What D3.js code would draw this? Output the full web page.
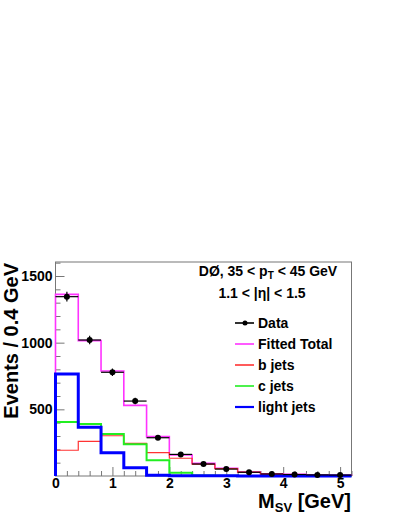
<!DOCTYPE html>
<html>
<head>
<meta charset="utf-8">
<script src="https://cdn.jsdelivr.net/npm/d3@7"></script>
<style>
  body { margin: 0; background: #fff; }
  svg { display: block; font-family: "Liberation Sans", Arial, sans-serif; font-weight: bold; }
  .axis { font-family: "Liberation Sans", Arial, sans-serif; }
  .axis text { font-size: 14px; font-weight: bold; fill: #000; }
  .axis line { stroke: #777; }
  .axis path { display: none; }
</style>
</head>
<body>
<svg id="chart"></svg>
<script>
// bin edges 0 .. 5.2 GeV, 0.4 GeV wide
var binEdges = [0, 0.4, 0.8, 1.2, 1.6, 2.0, 2.4, 2.8, 3.2, 3.6, 4.0, 4.4, 4.8, 5.2];
var binCenters = [0.2, 0.6, 1.0, 1.4, 1.8, 2.2, 2.6, 3.0, 3.4, 3.8, 4.2, 4.6, 5.0];

var dataVals = [1345, 1020, 778, 562, 287, 162, 90, 52, 28, 15, 11, 8, 7];
var dataErrs = [37, 32, 28, 24, 17, 13, 9, 7, 5, 4, 3, 3, 3];
var totalVals = [1362, 1015, 787, 530, 295, 157, 95, 58, 30, 16, 12, 6, 5];
var bVals = [193, 260, 302, 245, 175, 133, 88, 55, 29, 15, 11, 6, 5];
var cVals = [405, 390, 315, 238, 118, 25, 3, 1, 0, 0, 0, 0, 0];
var lightVals = [765, 365, 175, 62, 5, 2, 1, 1, 0, 0, 0, 0, 0];

var yMajor = [500, 1000, 1500];
var yMinor = [100, 200, 300, 400, 600, 700, 800, 900, 1100, 1200, 1300, 1400, 1600];
var xMajor = [0, 1, 2, 3, 4, 5];
var xMinor = [0.2, 0.4, 0.6, 0.8, 1.2, 1.4, 1.6, 1.8, 2.2, 2.4, 2.6, 2.8, 3.2, 3.4, 3.6, 3.8, 4.2, 4.4, 4.6, 4.8, 5.2];

var legendNames = ["Data", "Fitted Total", "b jets", "c jets", "light jets"];
var legendColors = ["#000", "#ff33ff", "#ff3333", "#22ee22", "#0000ff"];

var W = 399, H = 516;
var frame = {left: 55.5, right: 351.5, top: 262, bottom: 476};

var svg = d3.select("#chart").attr("width", W).attr("height", H);

var x = d3.scaleLinear().domain([0, 5.2]).range([frame.left, frame.right]);
var y = d3.scaleLinear().domain([0, 1605]).range([frame.bottom, frame.top]);

// frame
svg.append("rect")
  .attr("x", frame.left).attr("y", frame.top)
  .attr("width", frame.right - frame.left)
  .attr("height", frame.bottom - frame.top)
  .attr("fill", "none").attr("stroke", "#777").attr("stroke-width", 1);

// axes, ticks inside the frame
svg.append("g").attr("class", "axis")
  .attr("transform", "translate(" + frame.left + ",0)")
  .call(d3.axisLeft(y).tickValues(yMajor).tickSize(-9).tickPadding(3).tickFormat(d3.format("d")));
svg.append("g").attr("class", "axis")
  .attr("transform", "translate(" + frame.left + ",0)")
  .call(d3.axisLeft(y).tickValues(yMinor).tickSize(-5).tickFormat(""));

svg.append("g").attr("class", "axis")
  .attr("transform", "translate(0," + frame.bottom + ")")
  .call(d3.axisBottom(x).tickValues(xMajor).tickSize(-9).tickPadding(2).tickFormat(d3.format("d")));
svg.append("g").attr("class", "axis")
  .attr("transform", "translate(0," + frame.bottom + ")")
  .call(d3.axisBottom(x).tickValues(xMinor).tickSize(-5).tickFormat(""));

// step histogram path
function stepPath(vals) {
  var p = d3.path();
  p.moveTo(x(binEdges[0]), y(0));
  vals.forEach(function(v, i) {
    p.lineTo(x(binEdges[i]), y(v));
    p.lineTo(x(binEdges[i + 1]), y(v));
  });
  p.lineTo(x(binEdges[binEdges.length - 1]), y(0));
  return p.toString();
}

var hists = [
  {vals: totalVals, color: legendColors[1], w: 1.6},
  {vals: bVals, color: legendColors[2], w: 1.2},
  {vals: cVals, color: legendColors[3], w: 2},
  {vals: lightVals, color: legendColors[4], w: 3}
];

svg.selectAll(".hist")
  .data(hists)
  .enter().append("path")
  .attr("class", "hist")
  .attr("d", function(d) { return stepPath(d.vals); })
  .attr("fill", "none")
  .attr("stroke", function(d) { return d.color; })
  .attr("stroke-width", function(d) { return d.w; });

// data points with error bars
var pts = svg.selectAll(".pt")
  .data(dataVals)
  .enter().append("g")
  .attr("class", "pt");

pts.append("line")
  .attr("x1", function(d, i) { return x(binEdges[i]); })
  .attr("x2", function(d, i) { return x(binEdges[i + 1]); })
  .attr("y1", function(d) { return y(d); })
  .attr("y2", function(d) { return y(d); })
  .attr("stroke", "#000").attr("stroke-width", 1.2);

pts.append("line")
  .attr("x1", function(d, i) { return x(binCenters[i]); })
  .attr("x2", function(d, i) { return x(binCenters[i]); })
  .attr("y1", function(d, i) { return y(d + dataErrs[i]); })
  .attr("y2", function(d, i) { return y(d - dataErrs[i]); })
  .attr("stroke", "#000").attr("stroke-width", 1.2);

pts.append("circle")
  .attr("cx", function(d, i) { return x(binCenters[i]); })
  .attr("cy", function(d) { return y(d); })
  .attr("r", 3)
  .attr("fill", "#000");

// legend header
var head1 = svg.append("text")
  .attr("x", 268).attr("y", 276)
  .attr("text-anchor", "middle")
  .style("font-size", "14px");
head1.append("tspan").text("DØ, 35 < p");
head1.append("tspan").attr("dy", 3).style("font-size", "10px").text("T");
head1.append("tspan").attr("dy", -3).text(" < 45 GeV");

svg.append("text")
  .attr("x", 262).attr("y", 298)
  .attr("text-anchor", "middle")
  .style("font-size", "14px")
  .text("1.1 < |η| < 1.5");

// legend entries
var leg = svg.selectAll(".legend")
  .data(legendNames)
  .enter().append("g")
  .attr("class", "legend")
  .attr("transform", function(d, i) { return "translate(235," + (323 + i * 21) + ")"; });

leg.append("line")
  .attr("x1", 0).attr("x2", 19)
  .attr("y1", 0).attr("y2", 0)
  .attr("stroke", function(d, i) { return legendColors[i]; })
  .attr("stroke-width", function(d, i) { return i == 4 ? 2.2 : 1.6; });

leg.filter(function(d, i) { return i == 0; })
  .append("circle")
  .attr("cx", 10).attr("cy", 0).attr("r", 2.5).attr("fill", "#000");

leg.append("text")
  .attr("x", 23).attr("y", 5)
  .style("font-size", "14px")
  .text(function(d) { return d; });

// axis titles
svg.append("text")
  .attr("transform", "translate(18,263) rotate(-90)")
  .attr("text-anchor", "end")
  .style("font-size", "20px")
  .text("Events / 0.4 GeV");

var xt = svg.append("text")
  .attr("x", 351).attr("y", 508)
  .attr("text-anchor", "end")
  .style("font-size", "20px");
xt.append("tspan").text("M");
xt.append("tspan").attr("dy", 4).style("font-size", "13px").text("SV");
xt.append("tspan").attr("dy", -4).text(" [GeV]");
</script>
</body>
</html>
